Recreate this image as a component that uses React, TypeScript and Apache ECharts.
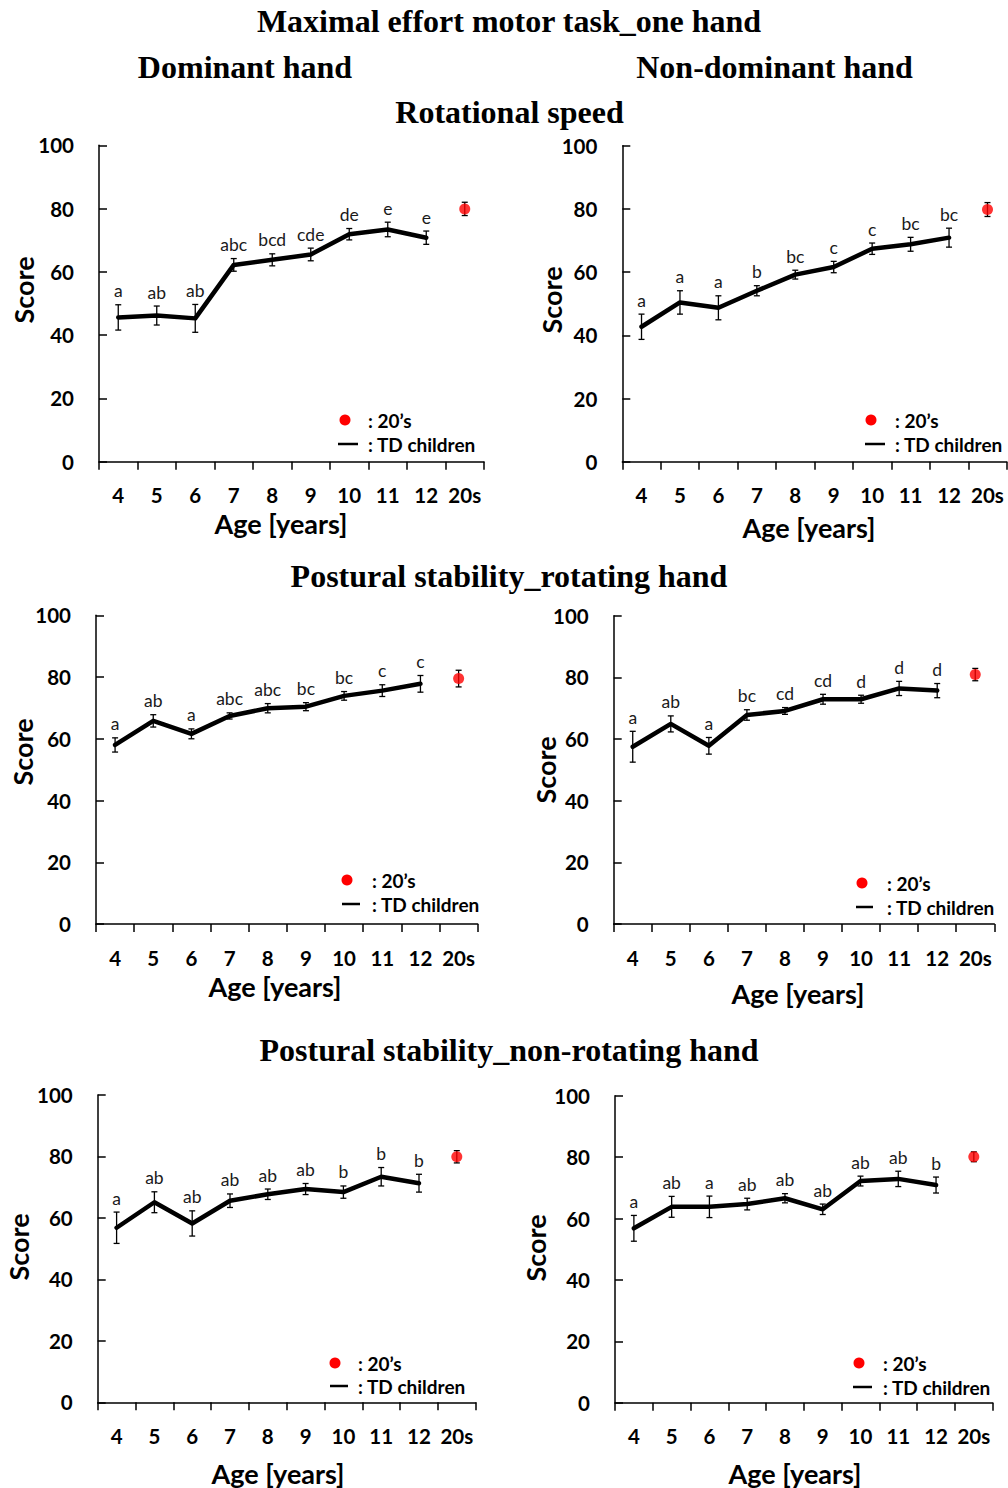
import React, { useEffect, useRef } from "react";
import * as echarts from "echarts";

// ---------- data ----------
const categories = ["4", "5", "6", "7", "8", "9", "10", "11", "12", "20s"];
const yTicks = [0, 20, 40, 60, 80, 100];

// Rotational speed – dominant hand
const rotDomMean = [45.6, 46.2, 45.3, 62.2, 63.8, 65.5, 71.9, 73.4, 70.8];
const rotDomSd = [4.0, 3.0, 4.4, 2.0, 1.9, 2.0, 1.8, 2.3, 2.1];
const rotDomLetters = ["a", "ab", "ab", "abc", "bcd", "cde", "de", "e", "e"];
const rotDomAdult = [79.9, 2.1];

// Rotational speed – non-dominant hand
const rotNonMean = [42.7, 50.4, 48.7, 54.1, 59.2, 61.6, 67.4, 68.8, 70.9];
const rotNonSd = [4.0, 3.7, 3.8, 1.6, 1.4, 1.8, 1.8, 2.2, 3.0];
const rotNonLetters = ["a", "a", "a", "b", "bc", "c", "c", "bc", "bc"];
const rotNonAdult = [79.8, 2.2];

// Postural stability_rotating hand – dominant
const psrDomMean = [58.0, 65.8, 61.6, 67.4, 69.9, 70.4, 73.9, 75.6, 77.8];
const psrDomSd = [2.3, 2.0, 1.6, 1.0, 1.5, 1.3, 1.4, 1.9, 2.7];
const psrDomLetters = ["a", "ab", "a", "abc", "abc", "bc", "bc", "c", "c"];
const psrDomAdult = [79.5, 2.7];

// Postural stability_rotating hand – non-dominant
const psrNonMean = [57.5, 64.9, 57.8, 67.8, 69.1, 72.9, 72.9, 76.4, 75.7];
const psrNonSd = [5.0, 2.6, 2.7, 1.7, 1.1, 1.6, 1.3, 2.3, 2.3];
const psrNonLetters = ["a", "ab", "a", "bc", "cd", "cd", "d", "d", "d"];
const psrNonAdult = [80.9, 2.0];

// Postural stability_non-rotating hand – dominant
const psnDomMean = [56.8, 65.1, 58.2, 65.6, 67.7, 69.4, 68.4, 73.4, 71.3];
const psnDomSd = [5.1, 3.4, 4.1, 2.2, 1.7, 1.8, 2.0, 3.0, 2.9];
const psnDomLetters = ["a", "ab", "ab", "ab", "ab", "ab", "b", "b", "b"];
const psnDomAdult = [79.9, 2.0];

// Postural stability_non-rotating hand – non-dominant
const psnNonMean = [56.8, 63.8, 63.8, 64.7, 66.6, 63.0, 72.2, 72.9, 70.9];
const psnNonSd = [4.2, 3.4, 3.5, 1.9, 1.5, 1.7, 1.6, 2.5, 2.6];
const psnNonLetters = ["a", "ab", "a", "ab", "ab", "ab", "ab", "ab", "b"];
const psnNonAdult = [80.1, 1.6];

const legendAdult = ": 20\u2019s";
const legendChildren = ": TD children";

// ---------- layout ----------
const SANS = "Lato";
const SERIF = "'Liberation Serif', 'Times New Roman', serif";

const panels = [
  {
    grid: { left: 99, top: 145.3, width: 385, height: 316.4 },
    mean: rotDomMean, sd: rotDomSd, letters: rotDomLetters, adult: rotDomAdult,
    legend: { dotX: 345, dotY: 420, lx1: 338, lx2: 358, lineY: 444, textX: 368 },
    score: [23, 290], age: [281, 523],
  },
  {
    grid: { left: 622.3, top: 145.7, width: 384.4, height: 316 },
    mean: rotNonMean, sd: rotNonSd, letters: rotNonLetters, adult: rotNonAdult,
    legend: { dotX: 871, dotY: 420, lx1: 865, lx2: 885, lineY: 444, textX: 895 },
    score: [551, 300], age: [809, 527],
  },
  {
    grid: { left: 96, top: 615.3, width: 381.7, height: 308.7 },
    mean: psrDomMean, sd: psrDomSd, letters: psrDomLetters, adult: psrDomAdult,
    legend: { dotX: 347, dotY: 880, lx1: 342, lx2: 360, lineY: 904, textX: 372 },
    score: [22, 752], age: [275, 986],
  },
  {
    grid: { left: 613.7, top: 615.7, width: 380.6, height: 308.3 },
    mean: psrNonMean, sd: psrNonSd, letters: psrNonLetters, adult: psrNonAdult,
    legend: { dotX: 862, dotY: 883, lx1: 856, lx2: 873, lineY: 907, textX: 887 },
    score: [545, 770], age: [798, 993],
  },
  {
    grid: { left: 97.7, top: 1095, width: 378, height: 307.3 },
    mean: psnDomMean, sd: psnDomSd, letters: psnDomLetters, adult: psnDomAdult,
    legend: { dotX: 335, dotY: 1363, lx1: 330, lx2: 348, lineY: 1386, textX: 358 },
    score: [18, 1247], age: [278, 1473],
  },
  {
    grid: { left: 615, top: 1095.7, width: 377.7, height: 307 },
    mean: psnNonMean, sd: psnNonSd, letters: psnNonLetters, adult: psnNonAdult,
    legend: { dotX: 859, dotY: 1363, lx1: 853, lx2: 872, lineY: 1387, textX: 883 },
    score: [535, 1248], age: [795, 1473],
  },
];

const titles = [
  { text: "Maximal effort motor task_one hand", x: 509, y: 21 },
  { text: "Dominant hand", x: 245, y: 67 },
  { text: "Non-dominant hand", x: 774.5, y: 67 },
  { text: "Rotational speed", x: 509.5, y: 112 },
  { text: "Postural stability_rotating hand", x: 509, y: 576 },
  { text: "Postural stability_non-rotating hand", x: 509, y: 1050 },
];

function makeErrRender(letters: string[]) {
  return (params: any, api: any) => {
    const x = api.value(0);
    const m = api.value(1);
    const s = api.value(2);
    const top = api.coord([x, m + s]);
    const bot = api.coord([x, m - s]);
    const cap = 3;
    const stroke = { stroke: "#000", lineWidth: 1.3 };
    const children: any[] = [
      { type: "line", shape: { x1: top[0], y1: top[1], x2: bot[0], y2: bot[1] }, style: stroke },
      { type: "line", shape: { x1: top[0] - cap, y1: top[1], x2: top[0] + cap, y2: top[1] }, style: stroke },
      { type: "line", shape: { x1: bot[0] - cap, y1: bot[1], x2: bot[0] + cap, y2: bot[1] }, style: stroke },
    ];
    const letter = letters[params.dataIndex];
    if (letter) {
      children.push({
        type: "text",
        x: top[0],
        y: top[1] - 14,
        style: {
          text: letter,
          fontFamily: SANS,
          fontSize: 17.5,
          fill: "#1a1a1a",
          align: "center",
          verticalAlign: "middle",
        },
      });
    }
    return { type: "group", children };
  };
}

function buildOption() {
  const grid: any[] = [];
  const xAxis: any[] = [];
  const yAxis: any[] = [];
  const series: any[] = [];
  const graphic: any[] = [];

  panels.forEach((p, i) => {
    grid.push({ ...p.grid, containLabel: false });
    xAxis.push({
      type: "category",
      gridIndex: i,
      data: categories,
      boundaryGap: true,
      axisLine: { lineStyle: { color: "#000", width: 1.5 } },
      axisTick: { show: true, length: 8, inside: false, lineStyle: { color: "#000", width: 1.5 } },
      axisLabel: { color: "#000", fontFamily: SANS, fontWeight: "bold", fontSize: 20.5, margin: 23, interval: 0 },
      splitLine: { show: false },
    });
    yAxis.push({
      type: "value",
      gridIndex: i,
      min: yTicks[0],
      max: yTicks[yTicks.length - 1],
      interval: yTicks[1] - yTicks[0],
      axisLine: { show: true, lineStyle: { color: "#000", width: 1.5 } },
      axisTick: { show: true, inside: true, length: 8, lineStyle: { color: "#000", width: 1.5 } },
      axisLabel: { color: "#000", fontFamily: SANS, fontWeight: "bold", fontSize: 20.5, margin: 25 },
      splitLine: { show: false },
    });

    const errData = p.mean.map((m, k) => [k, m, p.sd[k]]);
    errData.push([categories.length - 1, p.adult[0], p.adult[1]]);
    const lettersAll = [...p.letters, ""];

    series.push({
      type: "custom",
      xAxisIndex: i,
      yAxisIndex: i,
      renderItem: makeErrRender(lettersAll),
      data: errData,
      clip: false,
      z: 2,
      silent: true,
    });
    series.push({
      type: "line",
      xAxisIndex: i,
      yAxisIndex: i,
      data: p.mean,
      symbol: "none",
      lineStyle: { color: "#000", width: 4.5, join: "round", cap: "round" },
      z: 3,
      silent: true,
    });
    series.push({
      type: "scatter",
      xAxisIndex: i,
      yAxisIndex: i,
      data: [[categories.length - 1, p.adult[0]]],
      symbol: "circle",
      symbolSize: 11,
      itemStyle: { color: "#ff0000" },
      z: 4,
      silent: true,
    });

    // legend
    const L = p.legend;
    graphic.push({ type: "circle", shape: { cx: L.dotX, cy: L.dotY, r: 5.5 }, style: { fill: "#ff0000" } });
    graphic.push({ type: "line", shape: { x1: L.lx1, y1: L.lineY, x2: L.lx2, y2: L.lineY }, style: { stroke: "#000", lineWidth: 2.5 } });
    graphic.push({
      type: "text", x: L.textX, y: L.dotY,
      style: { text: legendAdult, fontFamily: SANS, fontWeight: "bold", fontSize: 19, fill: "#000", align: "left", verticalAlign: "middle" },
    });
    graphic.push({
      type: "text", x: L.textX, y: L.lineY,
      style: { text: legendChildren, fontFamily: SANS, fontWeight: "bold", fontSize: 19, fill: "#000", align: "left", verticalAlign: "middle" },
    });
    // axis names
    graphic.push({
      type: "text", x: p.score[0], y: p.score[1], rotation: Math.PI / 2,
      style: { text: "Score", fontFamily: SANS, fontWeight: "bold", fontSize: 27, fill: "#000", align: "center", verticalAlign: "middle" },
    });
    graphic.push({
      type: "text", x: p.age[0], y: p.age[1],
      style: { text: "Age [years]", fontFamily: SANS, fontWeight: "bold", fontSize: 27, fill: "#000", align: "center", verticalAlign: "middle" },
    });
  });

  titles.forEach((t) => {
    graphic.push({
      type: "text", x: t.x, y: t.y,
      style: { text: t.text, fontFamily: SERIF, fontWeight: "bold", fontSize: 32, fill: "#000", align: "center", verticalAlign: "middle" },
    });
  });

  return {
    animation: false,
    backgroundColor: "#ffffff",
    grid,
    xAxis,
    yAxis,
    series,
    graphic,
  };
}

export default function App() {
  const ref = useRef<HTMLDivElement>(null);
  useEffect(() => {
    if (!ref.current) return;
    const chart = echarts.init(ref.current, undefined, { renderer: "svg" });
    chart.setOption(buildOption());
    return () => chart.dispose();
  }, []);
  return (
    <div
      ref={ref}
      style={{ position: "absolute", left: 0, top: 0, width: 1008, height: 1488, background: "#fff" }}
    />
  );
}
